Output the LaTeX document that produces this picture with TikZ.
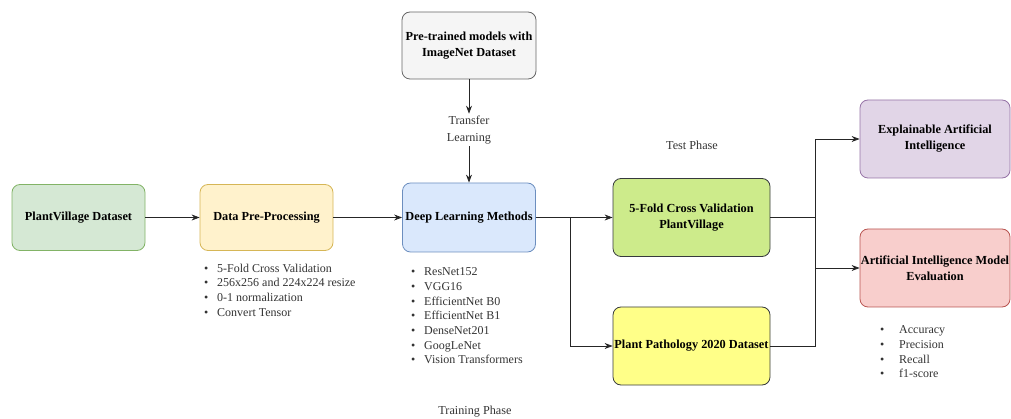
\documentclass[tikz,border=0pt]{standalone}
\usepackage{fontspec}
\setmainfont{Liberation Serif}
\usetikzlibrary{arrows.meta,positioning}
\definecolor{gfill}{HTML}{D5E8D4}\definecolor{gdraw}{HTML}{82B366}
\definecolor{yfill}{HTML}{FFF2CC}\definecolor{ydraw}{HTML}{D6B656}
\definecolor{bfill}{HTML}{DAE8FC}\definecolor{bdraw}{HTML}{6C8EBF}
\definecolor{sfill}{HTML}{F5F5F5}\definecolor{sdraw}{HTML}{666666}
\definecolor{lfill}{HTML}{CDEB8B}\definecolor{ldraw}{HTML}{36393D}
\definecolor{y2fill}{HTML}{FFFF88}
\definecolor{pfill}{HTML}{E1D5E7}\definecolor{pdraw}{HTML}{9673A6}
\definecolor{rfill}{HTML}{F8CECC}\definecolor{rdraw}{HTML}{B85450}
\tikzset{
  box/.style={draw, rounded corners=8pt, line width=0.8pt, inner sep=0pt, align=center,
    font=\fontsize{12.3}{16}\selectfont\bfseries},
  plain/.style={inner sep=0pt, align=center, font=\fontsize{12.2}{17}\selectfont, text=black!80},
  blist/.style={inner sep=0pt, align=left, anchor=north west, font=\fontsize{12}{14.7}\selectfont, text=black!80},
  conn/.style={draw=black!85, line width=0.8pt},
  arr/.style={conn, -{Stealth[length=8pt,width=6pt]}},
}
\newcommand{\bl}[1][13pt]{\makebox[#1][l]{\textbullet}}
\begin{document}
\begin{tikzpicture}[x=1pt,y=-1pt]
\useasboundingbox (0,0) rectangle (1011,419);
\node[box, fill=gfill, draw=gdraw, minimum width=133pt, minimum height=66pt] (pv) at (78.5,217.5) {PlantVillage Dataset};
\node[box, fill=yfill, draw=ydraw, minimum width=133pt, minimum height=66pt] (dpp) at (266.5,217.5) {Data Pre-Processing};
\node[box, fill=bfill, draw=bdraw, minimum width=133pt, minimum height=69pt] (dlm) at (469,217.5) {Deep Learning Methods};
\node[box, fill=sfill, draw=sdraw, minimum width=134pt, minimum height=67pt] (pre) at (469,45.5) {Pre-trained models with\\ImageNet Dataset};
\node[box, fill=lfill, draw=ldraw, minimum width=157pt, minimum height=78pt] (fold) at (691.5,217.5) {5-Fold Cross Validation\\PlantVillage};
\node[box, fill=y2fill, draw=ldraw, minimum width=157pt, minimum height=78pt] (pp) at (691.5,346) {Plant Pathology 2020 Dataset};
\node[box, fill=pfill, draw=pdraw, minimum width=150pt, minimum height=78pt] (xai) at (935,139) {Explainable Artificial\\Intelligence};
\node[box, fill=rfill, draw=rdraw, minimum width=150pt, minimum height=78pt] (eval) at (935,268) {Artificial Intelligence Model\\Evaluation};

\node[plain] (tl) at (469,130) {Transfer\\Learning};
\node[plain] (test) at (692,145) {Test Phase};
\node[plain] (train) at (475,412) {Training Phase};

\node[blist] (l1) at (204,263.5) {\bl 5-Fold Cross Validation\\\bl 256x256 and 224x224 resize\\\bl 0-1 normalization\\\bl Convert Tensor};
\node[blist] (l2) at (411,267.5) {\bl ResNet152\\\bl VGG16\\\bl EfficientNet B0\\\bl EfficientNet B1\\\bl DenseNet201\\\bl GoogLeNet\\\bl Vision Transformers};
\node[blist] (l3) at (880,325.5) {\bl[16pt] Accuracy\\\bl[16pt] Precision\\\bl[16pt] Recall\\\bl[16pt] f1-score};

\coordinate (br) at (570,217.5);
\coordinate (jn) at (815,217.5);

\draw[arr] (pv.east) -- (dpp.west);
\draw[arr] (dpp.east) -- (dlm.west);
\draw[arr] (pre.south) -- ([yshift=2pt]tl.north);
\draw[arr] ([yshift=-2pt]tl.south) -- (dlm.north);
\draw[arr] (dlm.east) -- (fold.west);
\draw[arr] (br) |- (pp.west);
\draw[conn] (fold.east) -- (jn);
\draw[conn] (pp.east) -| (jn);
\draw[arr] (jn) |- (xai.west);
\draw[arr] (jn) |- (eval.west);
\end{tikzpicture}
\end{document}
